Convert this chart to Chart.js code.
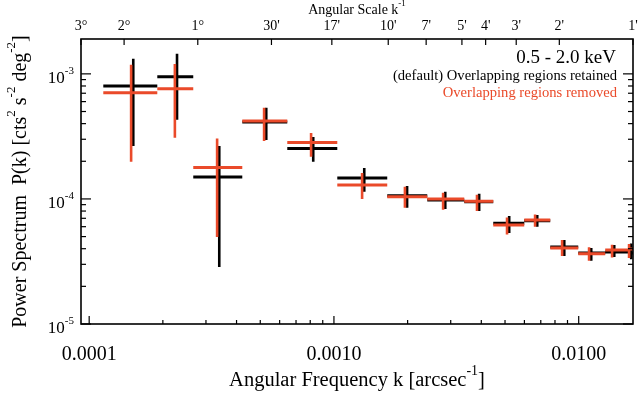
<!DOCTYPE html>
<html>
<head>
<meta charset="utf-8">
<script src="https://cdn.jsdelivr.net/npm/chart.js@4.4.0/dist/chart.umd.min.js"></script>
<style>
  html, body { margin: 0; padding: 0; background: #fff; }
  #wrap { width: 638px; height: 395px; }
</style>
</head>
<body>
<div id="wrap"><canvas id="chart"></canvas></div>
<script>
// k bins [arcsec^-1]: contiguous edges and the centre of each bin
const binEdges = [1.142e-4, 1.898e-4, 2.662e-4, 4.222e-4, 6.447e-4, 1.032e-3, 1.651e-3, 2.406e-3,
                  3.407e-3, 4.476e-3, 5.992e-3, 7.651e-3, 9.956e-3, 1.283e-2, 1.593e-2, 1.85e-2];
const binCentres = [1.514e-4, 2.285e-4, 3.40e-4, 5.29e-4, 8.23e-4, 1.33e-3, 1.99e-3, 2.85e-3,
                    3.92e-3, 5.20e-3, 6.77e-3, 8.73e-3, 1.125e-2, 1.397e-2, 1.639e-2];

// P(k) [cts^2 s^-2 deg^-2], overlapping regions retained (default)
const retained     = [8.0e-4, 9.5e-4, 1.50e-4, 4.13e-4, 2.53e-4, 1.47e-4, 1.06e-4, 9.8e-5,
                      9.5e-5, 6.4e-5, 6.7e-5, 4.13e-5, 3.7e-5, 3.77e-5, 3.7e-5];
const retainedLow  = [2.65e-4, 4.29e-4, 2.86e-5, 2.96e-4, 1.98e-4, 1.14e-4, 8.5e-5, 8.3e-5,
                      8.0e-5, 5.35e-5, 6.0e-5, 3.5e-5, 3.2e-5, 3.44e-5, 3.3e-5];
const retainedHigh = [1.32e-3, 1.445e-3, 2.65e-4, 5.35e-4, 3.13e-4, 1.77e-4, 1.27e-4, 1.14e-4,
                      1.10e-4, 7.3e-5, 7.45e-5, 4.7e-5, 4.06e-5, 4.29e-5, 4.4e-5];

// P(k), overlapping regions removed
const removed      = [7.05e-4, 7.6e-4, 1.78e-4, 4.2e-4, 2.82e-4, 1.29e-4, 1.04e-4, 1.0e-4,
                      9.6e-5, 6.2e-5, 6.8e-5, 4.06e-5, 3.65e-5, 3.91e-5, 3.98e-5];
const removedLow   = [1.98e-4, 3.08e-4, 4.97e-5, 2.91e-4, 2.17e-4, 1.0e-4, 8.5e-5, 8.2e-5,
                      8.0e-5, 5.2e-5, 6.0e-5, 3.5e-5, 3.2e-5, 3.4e-5, 3.37e-5];
const removedHigh  = [1.18e-3, 1.20e-3, 3.04e-4, 5.35e-4, 3.37e-4, 1.61e-4, 1.25e-4, 1.12e-4,
                      1.08e-4, 7.1e-5, 7.5e-5, 4.7e-5, 4.1e-5, 4.3e-5, 4.37e-5];

// axis ranges and tick labels
const kMin = 1 / 10800, kMax = 1 / 60;
const pMin = 1e-5, pMax = 1.9e-3;
const bottomTicks = [1e-4, 1e-3, 1e-2];
const bottomTickLabels = ['0.0001', '0.0010', '0.0100'];
const topTickArcsec = [10800, 7200, 3600, 1800, 1020, 600, 420, 300, 240, 180, 120, 60];
const topTickLabels = ['3°', '2°', '1°', "30'", "17'", "10'", "7'", "5'", "4'", "3'", "2'", "1'"];
const yTickExponents = [-5, -4, -3];

const BLACK = '#000000';
const RED = '#ea4a2a';
const SERIF = '"Liberation Serif", "Times New Roman", serif';

// the removed series is nudged left a little so the two sets of bars can be told apart
const RED_SHIFT = 0.98;

function horizontalBars(values) {
  const pts = [];
  values.forEach((v, i) => {
    pts.push({ x: binEdges[i], y: v }, { x: binEdges[i + 1], y: v }, { x: binEdges[i + 1], y: null });
  });
  return pts;
}

function verticalBars(low, high, shift) {
  const pts = [];
  binCentres.forEach((k, i) => {
    const x = k * shift;
    pts.push({ x: x, y: low[i] }, { x: x, y: high[i] }, { x: x, y: null });
  });
  return pts;
}

function barSet(data, color, width, order) {
  return {
    data: data,
    showLine: true,
    spanGaps: false,
    borderColor: color,
    borderWidth: width,
    borderCapStyle: 'butt',
    pointRadius: 0,
    pointHoverRadius: 0,
    tension: 0,
    order: order,
  };
}

function font(size) {
  return `${size}px ${SERIF}`;
}

// text with raised pieces: parts = [[text, isSuperscript], ...]
function drawRich(ctx, parts, x, y, size, align) {
  const supSize = Math.round(size * 0.66);
  let width = 0;
  for (const [t, sup] of parts) {
    ctx.font = font(sup ? supSize : size);
    width += ctx.measureText(t).width;
  }
  let cx = align === 'center' ? x - width / 2 : align === 'right' ? x - width : x;
  for (const [t, sup] of parts) {
    ctx.font = font(sup ? supSize : size);
    ctx.fillText(t, cx, sup ? y - size * 0.55 : y);
    cx += ctx.measureText(t).width;
  }
}

function tick(ctx, x0, y0, x1, y1) {
  ctx.beginPath();
  ctx.moveTo(x0, y0);
  ctx.lineTo(x1, y1);
  ctx.stroke();
}

const axesFrame = {
  id: 'axesFrame',
  afterDraw(chart) {
    const { ctx, chartArea: a } = chart;
    const xs = chart.scales.x, ys = chart.scales.y;
    ctx.save();
    ctx.strokeStyle = BLACK;
    ctx.fillStyle = BLACK;
    ctx.lineWidth = 1.6;
    ctx.strokeRect(a.left, a.top, a.right - a.left, a.bottom - a.top);

    ctx.lineWidth = 1.2;
    // left and right: decades and minor ticks
    for (const e of yTickExponents) {
      for (let m = 1; m <= 9; m++) {
        const v = m * Math.pow(10, e);
        if (v < pMin || v > pMax) continue;
        const py = ys.getPixelForValue(v);
        const len = m === 1 ? 10 : 5;
        tick(ctx, a.left, py, a.left + len, py);
        tick(ctx, a.right, py, a.right - len, py);
      }
    }
    // bottom: decades and minor ticks
    for (const d of bottomTicks.concat([1e-5])) {
      for (let m = 1; m <= 9; m++) {
        const v = m * d;
        if (v < kMin || v > kMax) continue;
        const px = xs.getPixelForValue(v);
        const len = m === 1 ? 8 : 4;
        tick(ctx, px, a.bottom, px, a.bottom - len);
      }
    }
    // top: angular scale
    topTickArcsec.forEach((s) => {
      const px = xs.getPixelForValue(1 / s);
      tick(ctx, px, a.top, px, a.top + 6);
    });

    ctx.textBaseline = 'alphabetic';
    ctx.textAlign = 'left';

    // y tick labels
    for (const e of yTickExponents) {
      const py = ys.getPixelForValue(Math.pow(10, e));
      drawRich(ctx, [['10', false], [String(e), true]], a.left - 7, py + 9, 17, 'right');
    }
    // bottom tick labels
    bottomTicks.forEach((v, i) => {
      drawRich(ctx, [[bottomTickLabels[i], false]], xs.getPixelForValue(v), a.bottom + 36, 20, 'center');
    });
    // top tick labels
    topTickArcsec.forEach((s, i) => {
      drawRich(ctx, [[topTickLabels[i], false]], xs.getPixelForValue(1 / s), a.top - 9, 14, 'center');
    });

    const midX = (a.left + a.right) / 2;
    drawRich(ctx, [['Angular Scale k', false], ['-1', true]], midX, 14, 14, 'center');
    drawRich(ctx, [['Angular Frequency k [arcsec', false], ['-1', true], [']', false]], midX, a.bottom + 62, 20.5, 'center');

    // y title, rotated
    ctx.save();
    ctx.translate(26, (a.top + a.bottom) / 2);
    ctx.rotate(-Math.PI / 2);
    drawRich(ctx, [['Power Spectrum  P(k) [cts', false], ['2', true], [' s', false], ['-2', true],
                   [' deg', false], ['-2', true], [']', false]], 0, 0, 20, 'center');
    ctx.restore();

    // legend
    drawRich(ctx, [['0.5 - 2.0 keV', false]], 616, 63, 19, 'right');
    drawRich(ctx, [['(default) Overlapping regions retained', false]], 617, 80, 14.6, 'right');
    ctx.fillStyle = RED;
    drawRich(ctx, [['Overlapping regions removed', false]], 617, 97, 14.6, 'right');
    ctx.restore();
  }
};

new Chart(document.getElementById('chart'), {
  type: 'scatter',
  data: {
    datasets: [
      barSet(horizontalBars(retained), BLACK, 3, 1),
      barSet(verticalBars(retainedLow, retainedHigh, 1), BLACK, 2.6, 1),
      barSet(horizontalBars(removed), RED, 3, 0),
      barSet(verticalBars(removedLow, removedHigh, RED_SHIFT), RED, 2.6, 0),
    ]
  },
  options: {
    animation: false,
    responsive: true,
    maintainAspectRatio: false,
    layout: { padding: { left: 81, top: 39, right: 5, bottom: 71 } },
    plugins: {
      legend: { display: false },
      tooltip: { enabled: false },
    },
    scales: {
      x: { type: 'logarithmic', min: kMin, max: kMax, display: false },
      y: { type: 'logarithmic', min: pMin, max: pMax, display: false },
    }
  },
  plugins: [axesFrame]
});
</script>
</body>
</html>
